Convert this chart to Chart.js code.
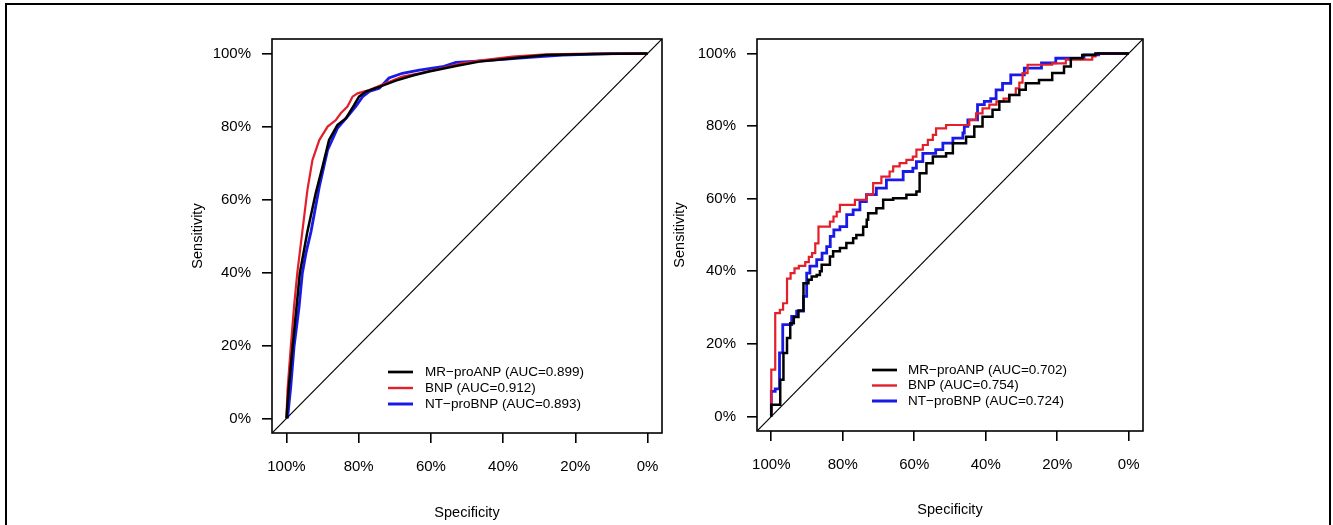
<!DOCTYPE html>
<html lang="en">
<head>
  <meta charset="UTF-8" />
  <title>ROC curves</title>
  <script src="https://cdn.jsdelivr.net/npm/chart.js"></script>
  <style>
    body {
      margin: 0;
      background: #fff;
      width: 1333px;
      height: 525px;
      overflow: hidden;
      position: relative;
      font-family: "Liberation Sans", Arial, sans-serif;
    }
    /* outer frame of the figure */
    .frame {
      position: absolute;
      left: 5px;
      top: 3px;
      width: 1322px;
      height: 600px;
      border: 2px solid #000;
    }
    canvas { position: absolute; top: 0; }
    #rocLeft { left: 150px; }
    #rocRight { left: 630px; }
  </style>
</head>
<body>
  <div class="frame"></div>
  <canvas id="rocLeft" width="540" height="525"></canvas>
  <canvas id="rocRight" width="545" height="522"></canvas>

  <script>
    // axes
    const specTicks = [100, 80, 60, 40, 20, 0];
    const sensTicks = [0, 20, 40, 60, 80, 100];
    const axisMin = -4;
    const axisMax = 104;

    const seriesNames = ['MR−proANP', 'BNP', 'NT−proBNP'];
    const aucLeft = ['0.899', '0.912', '0.893'];
    const aucRight = ['0.702', '0.754', '0.724'];

    // left panel, [specificity %, sensitivity %]
    const mrLeft = [[100,0],[99.4,8.0],[98.3,19.6],[97.2,30.6],[96.3,39.8],[94.2,51.2],[91.9,61.7],[90.0,69.0],
      [88.2,76.3],[85.9,80.4],[83.5,82.3],[81.2,86.0],[79.9,88.2],[78.0,89.6],[74.5,90.8],[69.7,92.6],
      [65.0,94.0],[60.5,95.1],[53.1,96.6],[46.6,97.8],[37.4,98.7],[28.1,99.6],[15.0,99.9],[0,100]];
    const bnpLeft = [[100,0],[99.7,7.8],[98.8,19.6],[97.9,30.6],[97.0,39.8],[95.6,51.2],[94.2,62.6],[92.8,70.8],
      [90.9,76.3],[88.6,80.0],[86.3,81.8],[84.9,83.7],[83.1,85.5],[81.7,88.2],[80.3,89.1],[77.1,90.0],
      [72.5,91.9],[67.9,93.7],[63.2,94.6],[56.8,96.0],[51.2,97.4],[46.6,98.1],[37.4,99.2],[28.1,99.8],
      [15.0,100],[0,100]];
    const ntLeft = [[99.7,0],[98.8,8.7],[97.9,19.6],[96.5,30.6],[95.6,39.8],[94.6,45.3],[93.2,51.2],[90.9,63.5],
      [88.6,73.6],[85.9,79.5],[83.1,82.7],[80.8,85.5],[78.9,88.2],[77.1,89.6],[74.3,90.5],[71.6,93.3],
      [67.9,94.6],[63.2,95.5],[56.8,96.4],[53.1,97.6],[46.0,98.0],[40.0,98.4],[32.7,99.0],[23.5,99.6],
      [10.0,100],[0,100]];

    // right panel, step corners [specificity %, sensitivity %]
    const mrRight = [[100,0],[100,3.2],[97.5,10.1],[96.6,17.5],[95.6,21.6],[94.7,25.7],[93.7,27.4],[92.4,29.2],
      [91.0,36.7],[89.6,37.7],[88.7,38.6],[87.3,39.0],[86.4,40.0],[85.9,41.8],[83.6,44.1],[82.7,45.5],
      [80.8,46.4],[79.0,47.8],[77.1,49.1],[76.2,50.0],[74.3,52.3],[73.3,54.2],[72.9,56.0],[70.6,57.4],
      [68.7,59.7],[65.9,60.1],[62.2,61.1],[59.4,62.0],[58.5,67.0],[56.6,69.8],[54.8,71.6],[51.1,72.5],
      [49.2,75.3],[45.5,77.1],[43.2,79.9],[40.9,82.6],[38.1,84.5],[36.2,86.8],[33.4,88.6],[30.6,90.0],
      [28.8,91.8],[25.1,92.7],[21.4,94.6],[18.1,96.4],[16.2,98.7],[13.0,99.6],[9.3,100],[0,100]];
    const bnpRight = [[100,0],[100,12.9],[98.9,28.5],[97.6,29.4],[96.7,31.2],[95.6,38.0],[94.6,39.5],[93.5,40.8],
      [92.3,41.5],[90.5,42.5],[89.5,44.0],[88.6,45.0],[87.7,47.7],[86.8,52.3],[83.6,53.7],[82.6,55.1],
      [81.7,56.4],[80.8,58.3],[76.6,59.7],[73.4,61.1],[71.5,64.3],[69.2,66.1],[66.9,67.5],[65.9,68.9],
      [64.1,69.8],[62.2,70.7],[60.4,71.6],[59.4,73.5],[57.6,74.8],[56.2,76.2],[54.8,77.6],[53.9,79.4],
      [51.1,80.3],[44.6,81.7],[42.7,83.5],[40.9,84.9],[39.0,85.9],[37.0,86.8],[35.0,87.6],[33.4,88.6],
      [31.6,90.4],[30.6,92.0],[29.7,94.6],[28.3,96.9],[21.4,97.3],[17.6,98.3],[10.2,99.2],[9.3,100],[0,100]];
    const ntRight = [[100,0],[100,6.9],[98.9,7.6],[97.7,17.5],[96.8,25.3],[94.3,27.6],[92.9,29.0],[91.0,33.1],
      [90.1,39.5],[89.2,41.4],[87.3,43.2],[85.8,45.0],[84.5,46.8],[83.5,49.6],[82.5,51.4],[80.8,52.3],
      [78.9,55.6],[77.1,56.9],[75.2,59.2],[73.4,61.1],[70.6,62.9],[67.8,65.2],[63.1,67.5],[60.4,68.4],
      [59.4,70.2],[57.6,72.5],[54.0,73.5],[52.0,75.3],[49.2,76.7],[46.4,78.1],[46.0,79.9],[45.0,81.7],
      [42.3,85.9],[40.4,86.8],[38.6,87.6],[37.1,90.0],[35.3,91.8],[33.0,94.1],[29.2,96.0],[24.4,97.4],
      [20.4,98.7],[12.5,99.6],[8.4,100],[0,100]];

    const colors = ['#000000', '#e3202a', '#1a1ae6'];
    const widths = [2.5, 2.2, 2.8];
    const FONT = '"Liberation Sans", Arial, sans-serif';

    // box round the plot region + legend inside it
    const rocFrame = {
      id: 'rocFrame',
      afterDraw(chart, args, opts) {
        const { ctx, chartArea: a } = chart;
        ctx.save();
        ctx.strokeStyle = '#000';
        ctx.lineWidth = 1.6;
        ctx.strokeRect(a.left, a.top, a.right - a.left, a.bottom - a.top);

        ctx.font = '13.5px ' + FONT;
        ctx.textBaseline = 'middle';
        ctx.textAlign = 'left';
        ctx.fillStyle = '#000';
        opts.labels.forEach((txt, i) => {
          const x = a.left + opts.x;
          const y = a.top + opts.y + i * opts.row;
          ctx.strokeStyle = colors[i];
          ctx.lineWidth = widths[i] + 0.2;
          ctx.beginPath();
          ctx.moveTo(x, y);
          ctx.lineTo(x + 25, y);
          ctx.stroke();
          ctx.fillText(txt, x + opts.gap, y);
        });
        ctx.restore();
      }
    };

    const toXY = arr => arr.map(p => ({ x: p[0], y: p[1] }));

    function makePanel(id, curves, auc, lay) {
      const datasets = [{
        data: [{ x: axisMax, y: axisMin }, { x: axisMin, y: axisMax }],
        borderColor: '#000',
        borderWidth: 1.2,
        pointRadius: 0
      }];
      curves.forEach((c, i) => datasets.push({
        data: toXY(c),
        borderColor: colors[i],
        borderWidth: widths[i],
        pointRadius: 0,
        stepped: lay.stepped ? 'before' : false
      }));

      return new Chart(document.getElementById(id), {
        type: 'scatter',
        data: { datasets },
        plugins: [rocFrame],
        options: {
          responsive: false,
          animation: false,
          events: [],
          showLine: true,
          layout: { padding: { top: 39, right: lay.padRight, left: 0, bottom: 0 } },
          plugins: {
            legend: { display: false },
            tooltip: { enabled: false },
            rocFrame: {
              labels: seriesNames.map((n, i) => n + ' (AUC=' + auc[i] + ')'),
              x: lay.legX, y: lay.legY, row: lay.legRow, gap: lay.legGap
            }
          },
          scales: {
            x: {
              type: 'linear',
              reverse: true,
              min: axisMin,
              max: axisMax,
              afterBuildTicks: s => { s.ticks = specTicks.map(v => ({ value: v })); },
              afterFit: s => { s.height = lay.xAxisH; },
              ticks: {
                callback: v => v + '%',
                color: '#000',
                font: { family: FONT, size: 15 },
                padding: 15,
                maxRotation: 0,
                autoSkip: false
              },
              grid: { drawOnChartArea: false, drawTicks: true, tickLength: 10, color: '#000', lineWidth: 1.6 },
              border: { display: false },
              title: {
                display: true,
                text: 'Specificity',
                color: '#000',
                font: { family: FONT, size: 14.5 },
                padding: { top: 0, bottom: 3 }
              }
            },
            y: {
              type: 'linear',
              min: axisMin,
              max: axisMax,
              afterBuildTicks: s => { s.ticks = sensTicks.map(v => ({ value: v })); },
              afterFit: s => { s.width = lay.yAxisW; },
              ticks: {
                callback: v => v + '%',
                color: '#000',
                font: { family: FONT, size: 15 },
                padding: 11
              },
              grid: { drawOnChartArea: false, drawTicks: true, tickLength: 10, color: '#000', lineWidth: 1.6 },
              border: { display: false },
              title: {
                display: true,
                text: 'Sensitivity',
                color: '#000',
                font: { family: FONT, size: 14.5 },
                padding: { top: lay.titlePad, bottom: 0 }
              }
            }
          }
        }
      });
    }

    makePanel('rocLeft', [mrLeft, bnpLeft, ntLeft], aucLeft, {
      yAxisW: 122, xAxisH: 92, padRight: 28, titlePad: 39,
      legX: 116, legY: 333, legRow: 16, legGap: 37, stepped: false
    });
    makePanel('rocRight', [mrRight, bnpRight, ntRight], aucRight, {
      yAxisW: 127, xAxisH: 91, padRight: 32, titlePad: 41,
      legX: 115, legY: 331, legRow: 15.5, legGap: 36, stepped: true
    });
  </script>
</body>
</html>
